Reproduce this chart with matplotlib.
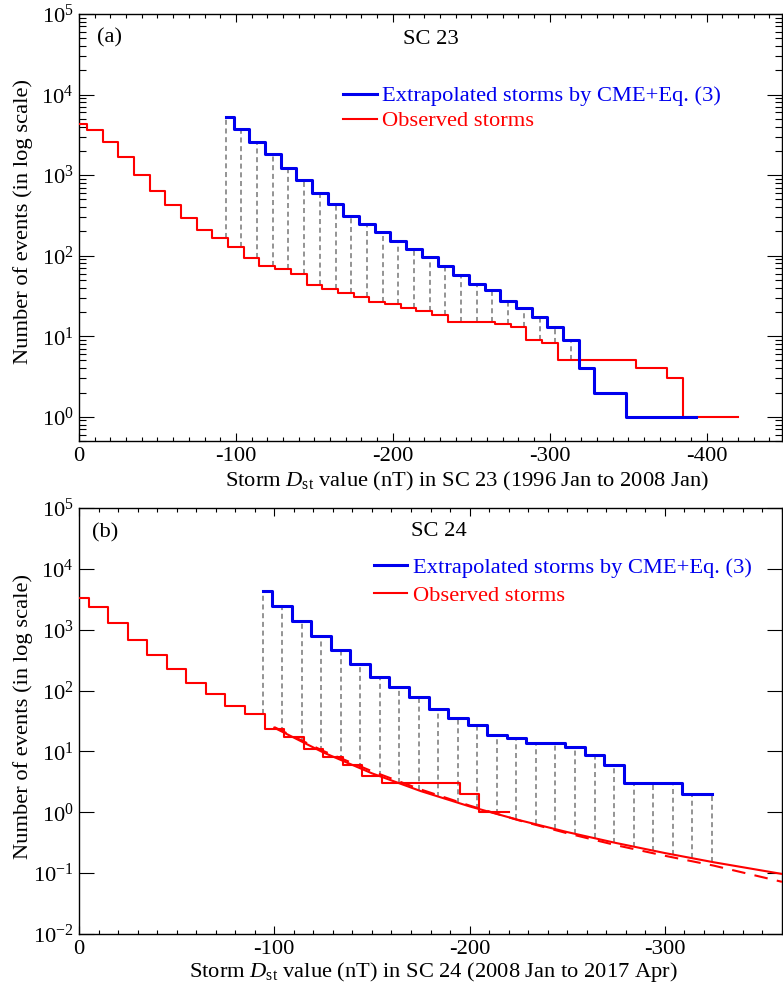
import numpy as np
import matplotlib
matplotlib.use('Agg')
import matplotlib.pyplot as plt
from matplotlib.ticker import MultipleLocator, LogLocator, NullLocator, LogFormatterMathtext, NullFormatter, FixedLocator

plt.rcParams['font.family'] = ['Liberation Serif', 'DejaVu Serif']
plt.rcParams['mathtext.fontset'] = 'custom'
plt.rcParams['mathtext.rm'] = 'Liberation Serif'
plt.rcParams['mathtext.it'] = 'Liberation Serif:italic'
plt.rcParams['mathtext.bf'] = 'Liberation Serif:bold'
plt.rcParams['axes.unicode_minus'] = False

# ---------------- Panel (a): SC 23 ----------------
obs23_dst = [0, -10, -20, -30, -40, -50, -60, -70, -80, -90, -100, -110, -120, -130,
             -140, -150, -160, -170, -180, -190, -200, -210, -220, -230, -240, -250,
             -260, -270, -280, -290, -300, -310, -320, -330, -340, -350, -360, -370,
             -380, -390, -400, -410, -420]
obs23_n = [4290, 3640, 2600, 1670, 1010, 640, 423, 292, 211, 168, 129, 94, 75, 68,
           59, 43, 38.6, 34, 30.4, 26.8, 25.1, 22.2, 20.5, 18.3, 15, 15,
           15, 14.1, 13.1, 9, 8.2, 5, 5, 5, 5, 5, 4, 4,
           3, 1, 1, 1, 1]
ext23_dst = [-93.5, -103.5, -113.5, -123.5, -133.5, -143.5, -153.5, -163.5, -173.5,
             -183.5, -193.5, -203.5, -213.5, -223.5, -233.5, -243.5, -253.5, -263.5,
             -273.5, -283.5, -293.5, -303.5, -313.5, -323.5, -333.5, -343.5, -353.5,
             -363.5, -373.5, -383.5, -393.5]
ext23_n = [5240, 3750, 2565, 1817, 1240, 871, 606, 435, 314, 245, 195, 153, 122, 97,
           75, 57.6, 44.2, 37.5, 27.4, 22.2, 17.5, 13.1, 9.0, 4.06, 1.95, 1.95, 1,
           1, 1, 1, 1]
yticks23 = [1e0, 1e1, 1e2, 1e3, 1e4, 1e5]

# ---------------- Panel (b): SC 24 ----------------
obs24_dst = [0, -10, -20, -30, -40, -50, -60, -70, -80, -90, -100, -110, -120, -130,
             -140, -150, -160, -170, -180, -190, -200, -210, -220]
obs24_n = [3340, 2323, 1297, 667, 383, 225, 133, 88.6, 56.3, 41.1, 23, 17.4, 10.8, 8.0,
           6.05, 3.95, 3, 3, 3, 3, 2, 1, 1]
ext24_dst = [-94, -104, -114, -124, -134, -144, -154, -164, -174, -184, -194, -204,
             -214, -224, -234, -244, -254, -264, -274, -284, -294, -304, -314, -324]
ext24_n = [4306, 2443, 1383, 776, 468, 272, 169, 113, 78.2, 49, 35.5, 26.8,
           18.6, 16.8, 13.9, 13.9, 11.7, 8.73, 5.9, 3.0, 3.0, 3.0, 1.98, 1.98]
fit24_dst = [-100, -125, -150, -175, -200, -225, -250, -275, -300, -325, -360]
fit24_solid = [24.5, 9.65, 4.37, 2.23, 1.25, 0.749, 0.473, 0.313, 0.214, 0.151, 0.097]
fit24_dashed = [25.1, 10.2, 4.73, 2.37, 1.29, 0.741, 0.452, 0.288, 0.193, 0.133, 0.072]
yticks24 = [1e-2, 1e-1, 1e0, 1e1, 1e2, 1e3, 1e4, 1e5]

ext_label = 'Extrapolated storms by CME+Eq. (3)'
obs_label = 'Observed storms'
BLUE = '#0000ee'
RED = '#ff0000'
GRAY = '#777777'
FS = 16.2

fig = plt.figure(figsize=(7.83, 9.88), dpi=100)
axA = fig.add_axes([79/783, 1-441/988, 703/783, 427/988])
axB = fig.add_axes([79/783, 1-934/988, 703/783, 426/988])


def style(ax, xlim, ylim, yticks, yminor):
    ax.set_yscale('log')
    ax.set_xlim(*xlim)
    ax.set_ylim(*ylim)
    ax.xaxis.set_major_locator(MultipleLocator(100))
    ax.xaxis.set_minor_locator(MultipleLocator(10))
    ax.yaxis.set_major_locator(FixedLocator(yticks))
    ax.yaxis.set_major_formatter(LogFormatterMathtext())
    if yminor:
        ax.yaxis.set_minor_locator(LogLocator(base=10, subs=np.arange(2, 10), numticks=20))
    else:
        ax.yaxis.set_minor_locator(NullLocator())
    ax.yaxis.set_minor_formatter(NullFormatter())
    ax.tick_params(which='both', direction='in', top=True, right=True,
                   labelsize=FS, width=0.8, pad=4)
    ax.tick_params(axis='y', which='major', length=11)
    ax.tick_params(axis='y', which='minor', length=5)
    ax.tick_params(axis='x', which='major', length=6)
    ax.tick_params(axis='x', which='minor', length=3)
    for s in ax.spines.values():
        s.set_linewidth(1.0)
    ax.xaxis.set_major_formatter(matplotlib.ticker.FuncFormatter(lambda v, p: '%d' % round(v)))


# ---- panel (a)
style(axA, (0, -448), (0.5, 1e5), yticks23, True)
ro, = axA.step(obs23_dst, obs23_n, where='mid', color=RED, lw=1.5, zorder=3, label=obs_label)
bo, = axA.step(ext23_dst, ext23_n, where='mid', color=BLUE, lw=2.2, zorder=4, label=ext_label)
ox = np.array(obs23_dst, float)
on = np.array(obs23_n, float)
for xc, yc in zip(ext23_dst, ext23_n):
    low = on[np.argmin(np.abs(ox - xc))]
    if yc > low:
        axA.plot([xc, xc], [low, yc], color=GRAY, lw=1.1, dashes=(3.3, 2.4), zorder=2)
axA.text(0.026, 0.944, '(a)', transform=axA.transAxes, fontsize=FS, ha='left', va='center')
axA.text(0.5, 0.94, 'SC 23', transform=axA.transAxes, fontsize=FS, ha='center', va='center')
legA = axA.legend(handles=[bo, ro], loc='upper left', bbox_to_anchor=(0.3755, 0.832),
                  frameon=False, fontsize=FS, handlelength=1.5, handletextpad=0.23,
                  borderpad=0, borderaxespad=0, labelspacing=0.185, labelcolor='linecolor')
axA.set_ylabel('Number of events (in log scale)', fontsize=FS)
axA.yaxis.set_label_coords(-0.065, 0.515)
axA.set_xlabel(r'Storm $D_{\rm st}$ value (nT) in SC 23 (1996 Jan to 2008 Jan)', fontsize=FS)
axA.xaxis.set_label_coords(0.552, -0.068)

# ---- panel (b)
style(axB, (0, -360), (0.01, 1e5), yticks24, False)
ro2, = axB.step(obs24_dst, obs24_n, where='mid', color=RED, lw=1.5, zorder=3, label=obs_label)
axB.plot(fit24_dst, fit24_solid, color=RED, lw=1.5, zorder=3)
axB.plot(fit24_dst, fit24_dashed, color=RED, lw=1.5, dashes=(6.5, 4.5), zorder=3)
bo2, = axB.step(ext24_dst, ext24_n, where='mid', color=BLUE, lw=2.2, zorder=4, label=ext_label)
ox2 = np.array(obs24_dst, float)
on2 = np.array(obs24_n, float)
fx = np.array(fit24_dst, float)[::-1]
fy = np.log10(np.array(fit24_solid, float))[::-1]
for xc, yc in zip(ext24_dst, ext24_n):
    if xc <= fit24_dst[0]:
        low = 10 ** np.interp(xc, fx, fy)
    else:
        low = on2[np.argmin(np.abs(ox2 - xc))]
    if yc > low:
        axB.plot([xc, xc], [low, yc], color=GRAY, lw=1.1, dashes=(3.3, 2.4), zorder=2)
axB.text(0.018, 0.941, '(b)', transform=axB.transAxes, fontsize=FS, ha='left', va='center')
axB.text(0.512, 0.944, 'SC 24', transform=axB.transAxes, fontsize=FS, ha='center', va='center')
legB = axB.legend(handles=[bo2, ro2], loc='upper left', bbox_to_anchor=(0.42, 0.884),
                  frameon=False, fontsize=FS, handlelength=1.47, handletextpad=0.27,
                  borderpad=0, borderaxespad=0, labelspacing=0.30, labelcolor='linecolor')
axB.set_ylabel('Number of events (in log scale)', fontsize=FS)
axB.yaxis.set_label_coords(-0.065, 0.51)
axB.set_xlabel(r'Storm $D_{\rm st}$ value (nT) in SC 24 (2008 Jan to 2017 Apr)', fontsize=FS)
axB.xaxis.set_label_coords(0.504, -0.062)

fig.savefig('out.png', dpi=100)
